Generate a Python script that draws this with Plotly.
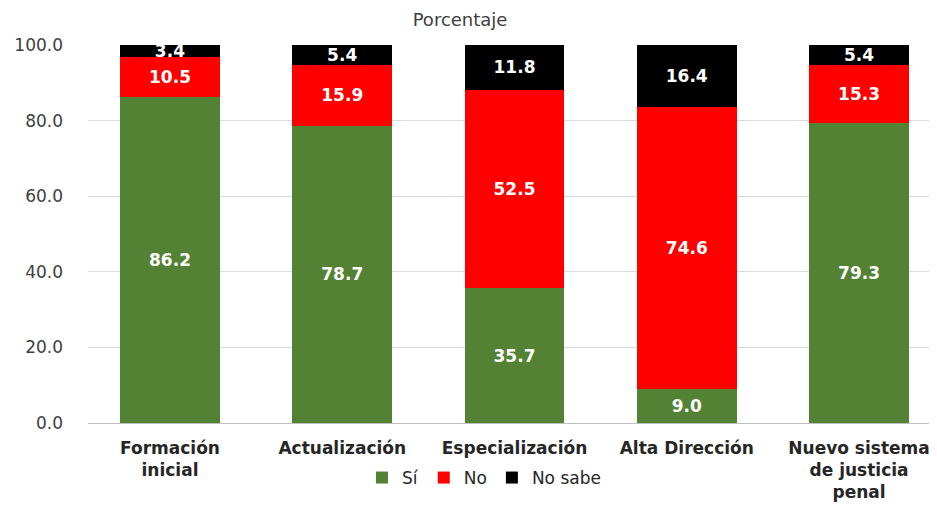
import plotly.graph_objects as go

categories = ["Formación<br>inicial", "Actualización", "Especialización", "Alta Dirección", "Nuevo sistema<br>de justicia<br>penal"]
si = [86.2, 78.7, 35.7, 9.0, 79.3]
no = [10.5, 15.9, 52.5, 74.6, 15.3]
no_sabe = [3.4, 5.4, 11.8, 16.4, 5.4]
y_ticks = [0, 20, 40, 60, 80, 100]

x = list(range(len(categories)))
series = [("Sí", si, "#548235"), ("No", no, "#FF0000"), ("No sabe", no_sabe, "#000000")]

fig = go.Figure()
for name, vals, color in series:
    fig.add_trace(go.Bar(
        x=x, y=vals, name=name, marker_color=color, marker_line_width=0,
        width=0.58,
        text=[f"{v:.1f}" for v in vals], textposition="inside",
        insidetextanchor="middle",
        textfont=dict(color="white", size=17, family="DejaVu Sans", weight="bold"),
    ))

# page has an 8px body margin, so the figure is sized/offset to compensate
fig.update_layout(
    barmode="stack",
    width=929, height=498,
    margin=dict(l=80, r=2, t=37, b=83, autoexpand=False),
    plot_bgcolor="white", paper_bgcolor="white",
    title=dict(text="Porcentaje", x=0.4866, xref="container", xanchor="center",
               y=0.977, yanchor="middle",
               font=dict(size=18, color="#404040", family="DejaVu Sans")),
    uniformtext=dict(mode="show", minsize=17),
    legend=dict(orientation="h", x=0.4675, xanchor="center", y=-0.1455, yanchor="middle",
                font=dict(size=17, color="#262626", family="DejaVu Sans"),
                traceorder="normal", itemwidth=30),
    showlegend=True,
)
fig.update_xaxes(
    tickvals=x, ticktext=categories, range=[-0.476, 4.441],
    tickfont=dict(size=17, color="#262626", family="DejaVu Sans", weight="bold"),
    showgrid=False, showline=False, ticks="", automargin=False,
    ticklabelstandoff=13,
)
fig.update_yaxes(
    range=[0, 100], tickvals=y_ticks, ticktext=[f"{v:.1f}" for v in y_ticks],
    tickfont=dict(size=17, color="#404040", family="DejaVu Sans"),
    showgrid=True, gridcolor="#d9d9d9", gridwidth=1,
    zeroline=True, zerolinecolor="#bfbfbf", zerolinewidth=1,
    ticks="", ticklabelstandoff=24, automargin=False,
)
fig.write_html("out.html")
